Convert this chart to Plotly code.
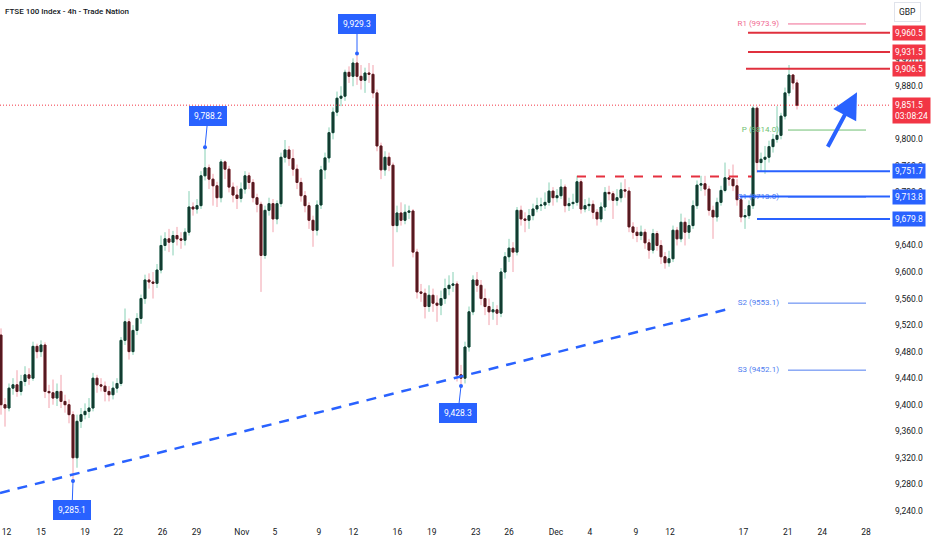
import plotly.graph_objects as go

# FTSE 100 4h candles (open = previous close)
first_open = 9505
closes = [
    9400, 9395, 9425, 9430, 9420, 9435, 9445, 9440, 9488, 9480,
    9490, 9420, 9418, 9410, 9420, 9405, 9400, 9385, 9320, 9375,
    9385, 9390, 9395, 9440, 9430, 9428, 9420, 9415, 9425, 9432,
    9497, 9525, 9480, 9512, 9530, 9560, 9588, 9585, 9583, 9603,
    9640, 9650, 9645, 9655, 9650, 9648, 9660, 9698, 9695, 9700,
    9745, 9757, 9740, 9730, 9712, 9766, 9755, 9728, 9716, 9711,
    9725, 9745, 9735, 9712, 9702, 9625, 9693, 9703, 9680, 9703,
    9773, 9784, 9771, 9755, 9735, 9715, 9700, 9678, 9663, 9701,
    9754, 9772, 9810, 9841, 9862, 9865, 9901, 9895, 9915, 9895,
    9889, 9900, 9898, 9870, 9790, 9754, 9773, 9761, 9670, 9689,
    9678, 9690, 9692, 9630, 9570, 9568, 9548, 9565, 9553, 9550,
    9560, 9575, 9580, 9582, 9445, 9440, 9487, 9540, 9588, 9580,
    9560, 9548, 9540, 9543, 9538, 9600, 9623, 9636, 9630, 9693,
    9680, 9678, 9685, 9695, 9700, 9701, 9705, 9722, 9712, 9715,
    9728, 9700, 9703, 9705, 9736, 9695, 9700, 9702, 9690, 9680,
    9698, 9720, 9718, 9708, 9712, 9724, 9722, 9668, 9660, 9655,
    9660, 9644, 9633, 9658, 9640, 9623, 9614, 9620, 9663, 9650,
    9675, 9660, 9670, 9700, 9731, 9733, 9725, 9693, 9683, 9705,
    9723, 9742, 9740, 9730, 9709, 9683, 9685, 9700, 9847, 9765,
    9770, 9773, 9789, 9800, 9806, 9835, 9870, 9897, 9885, 9851.5,
]
highs = [
    9515, 9410, 9432, 9440, 9452, 9445, 9458, 9455, 9495, 9492,
    9497, 9494, 9430, 9438, 9432, 9445, 9415, 9408, 9390, 9385,
    9395, 9402, 9410, 9448, 9445, 9440, 9435, 9428, 9435, 9440,
    9502, 9545, 9530, 9520, 9538, 9566, 9596, 9598, 9600, 9612,
    9655, 9660, 9665, 9662, 9668, 9660, 9666, 9722, 9705, 9710,
    9752, 9788.2, 9762, 9748, 9736, 9770, 9768, 9760, 9735, 9730,
    9735, 9752, 9750, 9740, 9718, 9706, 9700, 9712, 9710, 9708,
    9780, 9799, 9790, 9785, 9762, 9742, 9722, 9705, 9685, 9708,
    9760, 9780, 9818, 9848, 9872, 9880, 9905, 9910, 9922, 9929.3,
    9912, 9908, 9915, 9912, 9875, 9795, 9782, 9780, 9765, 9700,
    9705, 9702, 9700, 9695, 9635, 9582, 9575, 9580, 9575, 9565,
    9572, 9590, 9595, 9600, 9586, 9460, 9495, 9548, 9595, 9600,
    9588, 9575, 9560, 9555, 9550, 9606, 9630, 9650, 9645, 9698,
    9700, 9690, 9695, 9703, 9712, 9712, 9720, 9735, 9728, 9725,
    9740, 9732, 9712, 9718, 9745, 9740, 9710, 9712, 9708, 9695,
    9705, 9728, 9730, 9722, 9725, 9735, 9740, 9728, 9675, 9668,
    9670, 9665, 9650, 9665, 9662, 9648, 9630, 9632, 9670, 9668,
    9688, 9682, 9680, 9708, 9738, 9745, 9745, 9730, 9700, 9712,
    9730, 9765, 9755, 9762, 9740, 9715, 9695, 9708, 9850, 9850,
    9780, 9790, 9798, 9808, 9850, 9840, 9878, 9912, 9898, 9890,
]
lows = [
    9385, 9367, 9390, 9415, 9412, 9414, 9428, 9430, 9436, 9470,
    9472, 9410, 9395, 9400, 9398, 9395, 9388, 9372, 9285.1, 9305,
    9365, 9378, 9380, 9390, 9418, 9420, 9405, 9405, 9408, 9418,
    9428, 9490, 9468, 9475, 9505, 9522, 9552, 9575, 9560, 9576,
    9598, 9632, 9630, 9625, 9640, 9635, 9640, 9655, 9685, 9688,
    9695, 9738, 9725, 9700, 9698, 9705, 9740, 9720, 9705, 9695,
    9705, 9718, 9725, 9705, 9690, 9570, 9620, 9685, 9660, 9672,
    9698, 9765, 9760, 9745, 9725, 9706, 9690, 9665, 9638, 9655,
    9695, 9740, 9765, 9800, 9835, 9850, 9858, 9885, 9880, 9882,
    9875, 9870, 9885, 9862, 9782, 9740, 9745, 9752, 9608, 9660,
    9670, 9672, 9680, 9622, 9560, 9555, 9530, 9540, 9540, 9525,
    9535, 9552, 9565, 9570, 9435, 9428.3, 9432, 9480, 9535, 9570,
    9550, 9535, 9520, 9528, 9520, 9532, 9590, 9615, 9600, 9625,
    9670, 9660, 9665, 9678, 9690, 9692, 9695, 9700, 9700, 9705,
    9710, 9690, 9692, 9695, 9700, 9688, 9690, 9692, 9680, 9670,
    9675, 9692, 9708, 9680, 9700, 9705, 9712, 9660, 9650, 9645,
    9648, 9635, 9620, 9628, 9632, 9612, 9605, 9608, 9615, 9640,
    9645, 9640, 9650, 9665, 9695, 9722, 9715, 9685, 9650, 9676,
    9700, 9720, 9730, 9722, 9700, 9675, 9665, 9680, 9695, 9750,
    9752, 9748, 9765, 9780, 9795, 9800, 9830, 9865, 9875, 9845,
]
opens = [first_open] + closes[:-1]

# x-axis date labels and the bar where each one falls
tick_labels = ["12", "15", "19", "22", "26", "29", "Nov", "5", "9", "12", "16",
               "19", "23", "26", "Dec", "4", "9", "12", "17", "21", "24", "28"]
tick_bars = [1.4, 10, 21, 29.3, 40.4, 48.9, 60.2, 68.5, 79.5, 88.1, 99.1,
             107.7, 118.7, 127, 138.75, 147.25, 158.75, 167.25, 185.6, 196.7, 205.3, 216.25]

# price scale labels (9,840 and 9,960 sit fully under the price boxes)
price_ticks = [9240, 9280, 9320, 9360, 9400, 9440, 9480, 9520, 9560, 9600,
               9640, 9680, 9720, 9760, 9800, 9880, 9920]

# horizontal levels
red_levels = [9960.5, 9931.5, 9906.5]
blue_levels = [9751.7, 9713.8, 9679.8]
pivot_names = ["R1", "P", "S1", "S2", "S3"]
pivot_values = [9973.9, 9814.0, 9713.0, 9553.1, 9452.1]
last_price = 9851.5
countdown = "03:08:24"

# swing callouts (bar, price)
callout_bars = [89, 51, 18, 115]
callout_prices = [9929.3, 9788.2, 9285.1, 9428.3]

RED = "#f23645"
BLUE = "#2962ff"
FONT = "Roboto"
FS = 8.5

x = list(range(len(closes)))
body_hi = [max(o, c) for o, c in zip(opens, closes)]
body_lo = [min(o, c) for o, c in zip(opens, closes)]

fig = go.Figure()

# pivot labels drawn under the candles
pivot_colors = ["#f06a92", "#6fbf73", "#4f7df0", "#4f7df0", "#4f7df0"]
fig.add_trace(go.Scatter(
    x=[194.5] * len(pivot_values), y=pivot_values, mode="text",
    text=[f"{n} ({v:.1f})" for n, v in zip(pivot_names, pivot_values)],
    textposition="middle left",
    textfont=dict(family=FONT, size=8, color=pivot_colors),
    hoverinfo="skip", showlegend=False,
))

# wicks
fig.add_trace(go.Candlestick(
    x=x, open=opens, high=highs, low=lows, close=closes,
    increasing=dict(line=dict(color="#86d0b4", width=1), fillcolor="#86d0b4"),
    decreasing=dict(line=dict(color="#f2a2ad", width=1), fillcolor="#f2a2ad"),
    hoverinfo="skip", showlegend=False,
))
# dark bodies
fig.add_trace(go.Candlestick(
    x=x, open=opens, high=body_hi, low=body_lo, close=closes,
    increasing=dict(line=dict(color="#123b30", width=1), fillcolor="#123b30"),
    decreasing=dict(line=dict(color="#55191f", width=1), fillcolor="#55191f"),
    hoverinfo="skip", showlegend=False,
))

# swing points
fig.add_trace(go.Scatter(
    x=callout_bars, y=callout_prices, mode="markers",
    marker=dict(color=BLUE, size=4), hoverinfo="skip", showlegend=False,
))

x_end = 222.25
shapes = []
# current price dotted line
shapes.append(dict(type="line", xref="x", yref="y", x0=-0.25, x1=x_end,
                   y0=last_price, y1=last_price,
                   line=dict(color=RED, width=1, dash="1px,2px")))
# pivot lines
for v, col in zip(pivot_values, pivot_colors):
    shapes.append(dict(type="line", xref="x", yref="y", x0=196.75, x1=216.25,
                       y0=v, y1=v, line=dict(color=col, width=1)))
# resistance / support levels
for v, x0 in zip(red_levels, [186.75, 186.75, 186.25]):
    shapes.append(dict(type="line", xref="x", yref="y", x0=x0, x1=x_end,
                       y0=v, y1=v, line=dict(color="#e0303e", width=2)))
for v, x0 in zip(blue_levels, [189, 184.75, 189]):
    shapes.append(dict(type="line", xref="x", yref="y", x0=x0, x1=x_end,
                       y0=v, y1=v, line=dict(color=BLUE, width=2)))
# red dashed neckline
shapes.append(dict(type="line", xref="x", yref="y", x0=144, x1=187.75,
                   y0=9744, y1=9744, line=dict(color="#e5303f", width=2, dash="9px,10px")))
# rising trendline
shapes.append(dict(type="line", xref="x", yref="y", x0=-0.25, x1=182.25,
                   y0=9267, y1=9545, line=dict(color=BLUE, width=2.5, dash="10px,8px")))

annotations = []
annotations.append(dict(
    text="FTSE 100 Index - 4h - Trade Nation", xref="paper", yref="paper",
    x=0, y=1, xanchor="left", yanchor="top", xshift=3, yshift=-5,
    showarrow=False, font=dict(family=FONT, size=8, color="#131722", weight=500),
))
annotations.append(dict(
    text="GBP", xref="paper", yref="paper", x=1, y=1, xanchor="left", yanchor="top",
    xshift=4, yshift=-2, showarrow=False, bgcolor="white", bordercolor="#e0e3eb",
    borderwidth=1, borderpad=4, font=dict(family=FONT, size=FS, color="#131722"),
))
for v in red_levels:
    annotations.append(dict(
        text=f"{v:,.1f}", xref="paper", yref="y", x=1, y=v, xanchor="left",
        xshift=2, showarrow=False, bgcolor=RED, borderpad=2,
        font=dict(family=FONT, size=FS, color="white"),
    ))
for v in blue_levels:
    annotations.append(dict(
        text=f"{v:,.1f}", xref="paper", yref="y", x=1, y=v, xanchor="left",
        xshift=2, showarrow=False, bgcolor=BLUE, borderpad=2,
        font=dict(family=FONT, size=FS, color="white"),
    ))
annotations.append(dict(
    text=f"{last_price:,.1f}<br>{countdown}", xref="paper", yref="y", x=1, y=last_price,
    xanchor="left", yanchor="top", xshift=2, yshift=8, showarrow=False, bgcolor=RED,
    borderpad=2, align="left", font=dict(family=FONT, size=FS, color="white"),
))
# callout boxes
offsets = [(0, -30), (3, -31), (-1, 29), (-3, 27)]
for b, p, (dx, dy) in zip(callout_bars, callout_prices, offsets):
    annotations.append(dict(
        text=f"{p:,.1f}", x=b, y=p, xref="x", yref="y", ax=dx, ay=dy,
        showarrow=True, arrowhead=0, arrowwidth=1, arrowcolor=BLUE, standoff=0,
        bgcolor=BLUE, bordercolor=BLUE, borderpad=4,
        font=dict(family=FONT, size=FS, color="white"),
    ))
# projected move arrow
annotations.append(dict(
    text="", x=214, y=9871, xref="x", yref="y", ax=-30, ay=56,
    showarrow=True, arrowhead=2, arrowsize=1.3, arrowwidth=4, arrowcolor=BLUE,
))

fig.update_layout(
    width=932, height=550,
    margin=dict(l=0, r=42, t=0, b=25),
    paper_bgcolor="white", plot_bgcolor="white",
    shapes=shapes, annotations=annotations,
    showlegend=False,
    font=dict(family=FONT, size=FS, color="#131722"),
)
fig.update_xaxes(
    range=[-0.25, x_end], rangeslider_visible=False, showgrid=False, zeroline=False,
    tickmode="array", tickvals=tick_bars, ticktext=tick_labels, ticks="",
    tickfont=dict(family=FONT, size=FS, color="#131722"),
)
fig.update_yaxes(
    range=[9218.7, 10010], side="right", showgrid=False, zeroline=False,
    tickmode="array", tickvals=price_ticks,
    tickformat=",.1f", ticks="", ticklabelstandoff=4,
    tickfont=dict(family=FONT, size=FS, color="#131722"),
)

# drop the page's default body margin so the figure sits at the window's corner
fig.write_html("out.html", config={"displayModeBar": False},
               post_script="document.body.style.margin='0';")
